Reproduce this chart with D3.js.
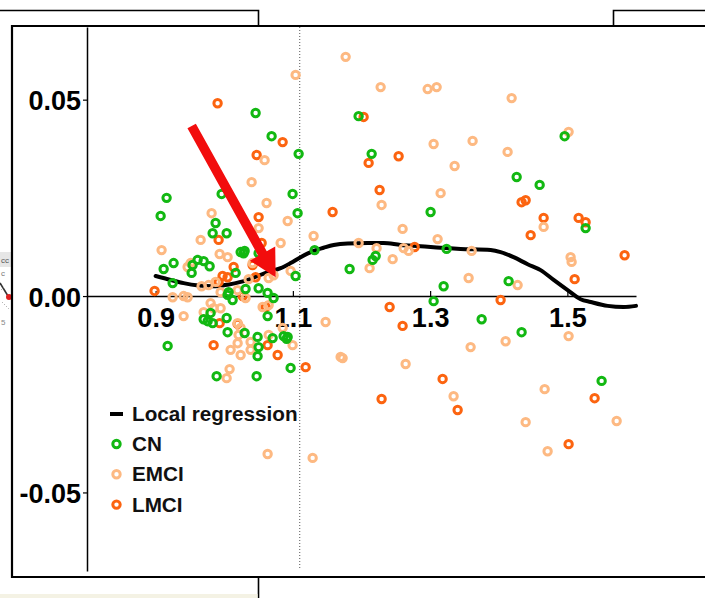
<!DOCTYPE html>
<html>
<head>
<meta charset="utf-8">
<script src="https://cdn.jsdelivr.net/npm/d3@7"></script>
<style>
  html, body { margin: 0; padding: 0; background: #fff; }
  svg { display: block; }
  text { font-family: "Liberation Sans", Arial, sans-serif; }
</style>
</head>
<body>
<svg id="chart" width="705" height="598"></svg>
<script>
// Group observations: [x, y]
const cnPoints = [
  [1.0457, 0.0466], [1.069, 0.0407], [1.1084, 0.0362], [0.9962, 0.026], [1.0996, 0.026],
  [0.916, 0.025], [0.9073, 0.0204], [1.1069, 0.0211], [0.9874, 0.0186], [0.9831, 0.016],
  [1.0035, 0.016], [1.0239, 0.0112], [1.0282, 0.0109], [1.0297, 0.0115], [1.1317, 0.0117],
  [1.0501, 0.0109], [0.9612, 0.0092], [0.97, 0.0089], [0.9787, 0.0076], [0.9262, 0.0084],
  [0.9117, 0.0069], [0.9539, 0.0079], [0.9525, 0.0059], [1.0166, 0.0059], [1.104, 0.0051],
  [1.1827, 0.0069], [0.9248, 0.0033], [1.0311, 0.0018], [1.0501, 0.002], [1.0064, 0.001],
  [1.0632, 0.0008], [1.0719, -0.0005], [1.0122, -0.001], [0.97, -0.0059], [0.9758, -0.0064],
  [0.9801, -0.0043], [0.9831, -0.0069], [1.0035, -0.0056], [1.0049, -0.0092], [1.0297, -0.0094],
  [1.0486, -0.0104], [1.0501, -0.013], [1.0486, -0.0153], [1.0705, -0.0107], [1.0632, -0.0051],
  [1.0865, -0.0102], [1.0924, -0.0104], [1.0909, -0.0109], [0.9175, -0.0127], [1.0967, -0.0183],
  [0.9889, -0.0204], [1.0472, -0.0204], [1.1958, 0.0458], [1.2148, 0.0362], [1.3007, 0.0214],
  [1.324, 0.012], [1.2206, 0.0102], [1.2162, 0.0092], [1.4261, 0.0303], [1.4596, 0.0283],
  [1.5266, 0.0173], [1.496, 0.0407], [1.3197, 0.0025], [1.4144, 0.0038], [1.3051, -0.0013],
  [1.3751, -0.0059], [1.4333, -0.0092], [1.5499, -0.0216], [1.0049, 0.0003]
];

const emciPoints = [
  [1.104, 0.0563], [1.1769, 0.0609], [1.0588, 0.0346], [1.0399, 0.029], [1.0617, 0.0237],
  [0.9816, 0.0211], [1.0924, 0.0191], [1.0501, 0.0173], [0.9656, 0.0143], [1.1302, 0.0153],
  [1.0822, 0.0135], [0.9087, 0.0117], [0.9933, 0.0107], [0.9466, 0.0074], [0.951, 0.0084],
  [1.0049, 0.0099], [1.0413, 0.0084], [1.0355, 0.0043], [1.0647, 0.0046], [1.0967, 0.0064],
  [1.0719, 0.0053], [0.9874, 0.0036], [0.967, 0.0025], [0.9772, 0.0028], [0.9248, -0.0003],
  [0.9408, 0.0], [0.9466, -0.0003], [1.0195, 0.0015], [1.0311, -0.0005], [0.9801, -0.0018],
  [0.9845, -0.0031], [0.97, -0.0041], [0.9947, -0.0031], [0.9408, -0.0051], [1.0559, -0.0028],
  [1.0647, -0.0023], [1.0195, -0.0069], [1.0239, -0.0081], [1.0209, -0.0099], [1.0384, -0.0117],
  [1.0647, -0.0099], [1.0195, -0.012], [1.0239, -0.015], [1.0384, -0.0137], [1.0093, -0.0137],
  [1.0851, -0.0081], [1.0996, -0.0125], [1.0078, -0.0186], [1.0035, -0.0209], [1.1477, -0.0066],
  [1.1696, -0.0155], [1.0632, -0.0402], [1.1288, -0.0412], [1.2279, 0.0532], [1.2964, 0.0527],
  [1.3095, 0.0532], [1.4188, 0.0504], [1.5018, 0.0418], [1.3051, 0.0387], [1.3619, 0.0395],
  [1.4129, 0.0367], [1.3357, 0.0331], [1.2293, 0.0232], [1.3153, 0.0262], [1.4654, 0.0176],
  [1.2599, 0.0171], [1.3109, 0.0145], [1.1958, 0.0135], [1.222, 0.0122], [1.2614, 0.0122],
  [1.2687, 0.0115], [1.3605, 0.0115], [1.2454, 0.0094], [1.2118, 0.0071], [1.5047, 0.0099],
  [1.5062, 0.0087], [1.3561, 0.0046], [1.4275, 0.0028], [1.41, -0.0115], [1.5018, -0.0102],
  [1.359, -0.013], [1.1725, -0.0158], [1.2643, -0.0173], [1.4669, -0.0237], [1.3342, -0.0255],
  [1.4392, -0.0321], [1.5718, -0.0318], [1.4712, -0.0395], [0.9947, 0.001]
];

const lmciPoints = [
  [0.9903, 0.0491], [1.0851, 0.0392], [1.0472, 0.0359], [1.0501, 0.0201], [1.1579, 0.0214],
  [0.9918, 0.0143], [1.0545, 0.0135], [1.0137, 0.0074], [1.0413, 0.0079], [0.9976, 0.0051],
  [1.0049, 0.0048], [1.0457, 0.0048], [0.8985, 0.0013], [0.9918, 0.0036], [1.0268, 0.0],
  [1.0603, -0.0028], [0.9933, -0.0069], [1.0195, -0.0071], [0.9845, -0.0125], [1.0632, -0.0125],
  [1.0778, -0.015], [1.1186, -0.0181], [1.2031, 0.0456], [1.2104, 0.0339], [1.2541, 0.0356],
  [1.2264, 0.027], [1.4333, 0.0239], [1.4392, 0.0244], [1.4654, 0.0199], [1.5164, 0.0199],
  [1.5266, 0.0188], [1.4465, 0.0155], [1.2774, 0.0125], [1.5834, 0.0104], [1.5106, 0.0043],
  [1.4027, -0.001], [1.241, -0.0028], [1.2599, -0.0076], [1.3182, -0.0211], [1.5397, -0.026],
  [1.3401, -0.029], [1.2293, -0.0262], [1.5018, -0.0377]
];

// Local regression (loess) fit
const loessX = [0.9, 0.9219, 0.9408, 0.9627, 0.9845, 1.0049, 1.0239, 1.0428, 1.0632, 1.0822,
  1.0967, 1.1113, 1.1302, 1.1448, 1.1594, 1.1798, 1.2089, 1.2323, 1.257, 1.2862, 1.3153,
  1.3444, 1.3882, 1.4027, 1.4217, 1.4421, 1.461, 1.48, 1.5004, 1.5193, 1.5339, 1.5587, 1.582, 1.6];
const loessY = [0.0051, 0.0041, 0.0033, 0.0027, 0.0025, 0.0029, 0.0036, 0.0047, 0.0061, 0.0071,
  0.0084, 0.0099, 0.0115, 0.0123, 0.013, 0.0134, 0.0135, 0.0135, 0.013, 0.0127, 0.0123,
  0.012, 0.0117, 0.0112, 0.0099, 0.0081, 0.0066, 0.0041, 0.0015, -0.0008, -0.0015, -0.0025, -0.0028, -0.0025];

const xTicks = [0.9, 1.1, 1.3, 1.5];
const yTicks = [-0.05, 0, 0.05];
const thresholdX = 1.11;

const groupNames = ["CN", "EMCI", "LMCI"];
const groupColors = { CN: "#12b812", EMCI: "#fdb982", LMCI: "#fc6410" };

// Highlight arrow, in data units: tail then head
const arrowFrom = [0.9525, 0.0433];
const arrowTo = [1.0749, 0.0048];

const svg = d3.select("#chart");

// ---- surrounding figure panels ----
const frame = svg.append("g").attr("fill", "none").attr("stroke", "#000");
frame.append("path").attr("d", "M0,10.5H258.5V26").attr("stroke-width", 1.6);
frame.append("path").attr("d", "M613.5,26V10.5H705").attr("stroke-width", 1.6);
frame.append("path").attr("d", "M258.5,577V598").attr("stroke-width", 1.6);
svg.append("rect").attr("x", 0).attr("y", 594).attr("width", 257.5).attr("height", 4)
  .attr("fill", "#f4f2e4");

// fragment of neighbouring panel on the left
const frag = svg.append("g");
frag.append("rect").attr("x", 0).attr("y", 252).attr("width", 11).attr("height", 15).attr("fill", "#e6e6e6");
frag.append("text").attr("x", 1).attr("y", 263).attr("font-size", 8).attr("fill", "#555").text("cc");
frag.append("text").attr("x", 1).attr("y", 276).attr("font-size", 8).attr("fill", "#777").text("c");
frag.append("path").attr("d", "M0,283L8,296").attr("stroke", "#333").attr("stroke-width", 1.6);
frag.append("circle").attr("cx", 9).attr("cy", 297).attr("r", 3).attr("fill", "#e02020");
frag.append("path").attr("d", "M2,302L9,309M1,290L5,286").attr("stroke", "#999")
  .attr("stroke-width", 1).attr("stroke-dasharray", "1,2");
frag.append("text").attr("x", 1).attr("y", 325).attr("font-size", 8).attr("fill", "#888").text("5");

// main panel
svg.append("path").attr("d", "M705,26H12V577H705")
  .attr("fill", "#fff").attr("stroke", "#000").attr("stroke-width", 2.2);

// ---- scales ----
const x = d3.scaleLinear().domain([0.8, 1.6]).range([87, 636]);
const y = d3.scaleLinear().domain([-0.07, 0.0685]).range([571, 27]);

// threshold marker
svg.append("line")
  .attr("x1", x(thresholdX)).attr("x2", x(thresholdX))
  .attr("y1", y(0.0685)).attr("y2", 568)
  .attr("stroke", "#555").attr("stroke-width", 1).attr("stroke-dasharray", "1,2");

// ---- axes ----
const yAxis = svg.append("g").attr("transform", `translate(${x(0.8)},0)`)
  .call(d3.axisLeft(y).tickValues(yTicks).tickFormat(d => d.toFixed(2))
    .tickSize(4).tickSizeOuter(0).tickPadding(2));
yAxis.select(".domain").attr("stroke-width", 1.5);
yAxis.selectAll(".tick line").attr("stroke-width", 1.2);
yAxis.selectAll("text").attr("font-size", 27).attr("font-weight", "bold")
  .attr("font-family", "'Liberation Sans', Arial, sans-serif").attr("fill", "#000").attr("dy", "0.37em");

const xAxis = svg.append("g").attr("transform", `translate(0,${y(0)})`)
  .call(d3.axisBottom(x).tickValues(xTicks).tickFormat(d => d.toFixed(1))
    .tickSize(-5).tickSizeOuter(0));
xAxis.select(".domain").attr("stroke-width", 1.5);
xAxis.selectAll(".tick line").attr("stroke-width", 1.2);
xAxis.selectAll("text").attr("font-size", 27).attr("font-weight", "bold")
  .attr("font-family", "'Liberation Sans', Arial, sans-serif").attr("fill", "#000")
  .attr("y", 31).attr("dy", null);

// ---- regression curve ----
const curveData = loessX.map((v, i) => [v, loessY[i]]);
svg.append("path").datum(curveData)
  .attr("fill", "none").attr("stroke", "#000").attr("stroke-width", 4)
  .attr("stroke-linejoin", "round").attr("stroke-linecap", "round")
  .attr("d", d3.line().x(d => x(d[0])).y(d => y(d[1])).curve(d3.curveMonotoneX));

// ---- points ----
const pointLayers = [["LMCI", lmciPoints], ["EMCI", emciPoints], ["CN", cnPoints]];
pointLayers.forEach(([name, pts]) => {
  svg.append("g").selectAll("circle").data(pts).join("circle")
    .attr("cx", d => x(d[0])).attr("cy", d => y(d[1])).attr("r", 3.7)
    .attr("fill", "none").attr("stroke", groupColors[name]).attr("stroke-width", 3);
});

// ---- legend ----
const legend = svg.append("g").attr("font-weight", "bold").attr("font-size", 20.7);
legend.append("line").attr("x1", 110).attr("x2", 123).attr("y1", 414).attr("y2", 414)
  .attr("stroke", "#000").attr("stroke-width", 4);
legend.append("text").attr("x", 132).attr("y", 420.5).attr("fill", "#111").text("Local regression");
groupNames.forEach((name, i) => {
  const by = 451 + i * 30.3;
  legend.append("circle").attr("cx", 116.5).attr("cy", by - 7).attr("r", 3.7)
    .attr("fill", "none").attr("stroke", groupColors[name]).attr("stroke-width", 3);
  legend.append("text").attr("x", 132).attr("y", by).attr("fill", "#111").text(name);
});

// ---- highlight arrow ----
const ax0 = x(arrowFrom[0]), ay0 = y(arrowFrom[1]);
const ax1 = x(arrowTo[0]), ay1 = y(arrowTo[1]);
const ang = Math.atan2(ay1 - ay0, ax1 - ax0);
const headLen = 27, headHalf = 14.5, shaftHalf = 4.8;
const ux = Math.cos(ang), uy = Math.sin(ang), px = -uy, py = ux;
const bx = ax1 - ux * headLen, by = ay1 - uy * headLen;
const arrowPts = [
  [ax0 + px * shaftHalf, ay0 + py * shaftHalf],
  [bx + px * shaftHalf, by + py * shaftHalf],
  [bx + px * headHalf, by + py * headHalf],
  [ax1, ay1],
  [bx - px * headHalf, by - py * headHalf],
  [bx - px * shaftHalf, by - py * shaftHalf],
  [ax0 - px * shaftHalf, ay0 - py * shaftHalf]
];
svg.append("path").attr("d", "M" + arrowPts.map(p => p.join(",")).join("L") + "Z")
  .attr("fill", "#f20d0d");
</script>
</body>
</html>
